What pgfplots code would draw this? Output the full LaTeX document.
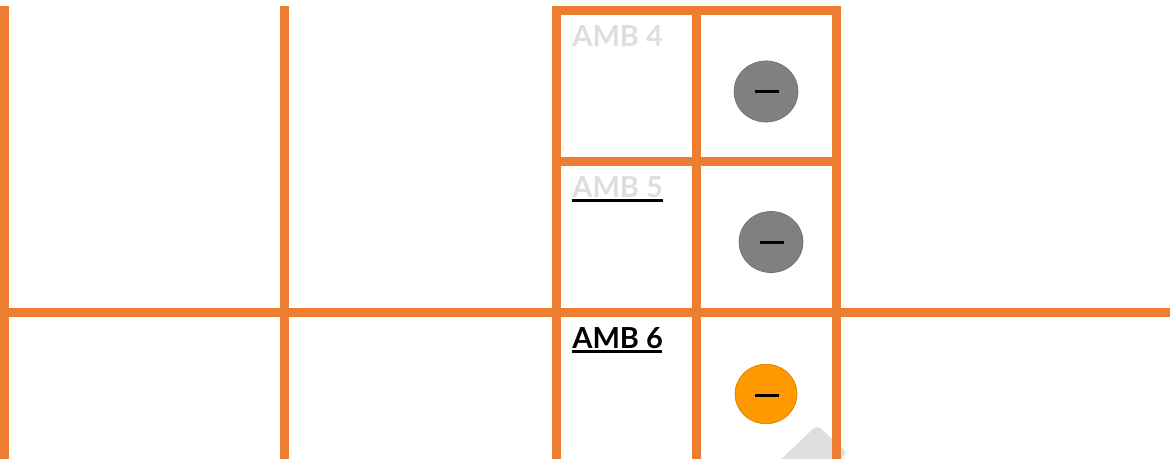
\documentclass[border=0pt]{standalone}
\usepackage{pgfplots}
\pgfplotsset{compat=1.18}
\usepackage{fontspec}
\setmainfont{Lato}
\definecolor{gridor}{HTML}{ED7D31}
\definecolor{wm}{HTML}{DEDEDE}
\definecolor{dotgray}{HTML}{808080}
\definecolor{dotor}{HTML}{FF9900}
\begin{document}
\begin{tikzpicture}
\useasboundingbox (0,0) rectangle (585pt,229.5pt);
\begin{axis}[
  at={(0,0)}, anchor=south west,
  scale only axis, width=585pt, height=229.5pt,
  xmin=0, xmax=1170, ymin=0, ymax=459, y dir=reverse,
  axis lines=none, clip=true, ticks=none,
  every axis plot/.append style={forget plot},
]
% watermark fragment
\addplot[fill=wm, draw=wm, line width=5pt, line join=round] coordinates {(772,475) (817,432) (840,452.5) (820,475)} --cycle;
% grid lines
\pgfplotsset{gl/.style={draw=gridor, line width=4.5pt, line cap=butt, no marks}}
\addplot[gl] coordinates {(4.5,6) (4.5,470)};
\addplot[gl] coordinates {(284.5,6) (284.5,470)};
\addplot[gl] coordinates {(556.5,6) (556.5,470)};
\addplot[gl] coordinates {(696.5,6) (696.5,470)};
\addplot[gl] coordinates {(836.5,6) (836.5,470)};
\addplot[gl] coordinates {(552,10.5) (841,10.5)};
\addplot[gl] coordinates {(552,161.5) (841,161.5)};
\addplot[gl] coordinates {(-5,312.5) (1175,312.5)};
% underlines
\addplot[draw=black, line width=1.5pt, no marks] coordinates {(572,200.5) (663,200.5)};
\addplot[draw=black, line width=1.5pt, no marks] coordinates {(572,351.5) (662,351.5)};
% status dots
\addplot[only marks, mark=*, mark size=16pt, mark options={yscale=0.955, fill=dotgray, draw=dotgray!85!black, line width=0.3pt}] coordinates {(766,91.5) (771,242)};
\addplot[only marks, mark=*, mark size=15.5pt, mark options={yscale=0.96, fill=dotor, draw=dotor!80!black, line width=0.3pt}] coordinates {(766,394)};
% minus signs, drawn as marks so that they stand on top of the dots
\addplot[only marks, mark=-, mark size=6pt, line width=1.5pt, mark options={solid, draw=black, line width=1.5pt}] coordinates {(767,92) (772,243) (767,395)};
% labels
\node[anchor=base west, inner sep=0pt, text=wm, font=\fontsize{14.5pt}{17pt}\selectfont\bfseries] at (axis cs:572,46.5) {AMB 4};
\node[anchor=base west, inner sep=0pt, text=wm, font=\fontsize{14.5pt}{17pt}\selectfont\bfseries] at (axis cs:572,197.5) {AMB 5};
\node[anchor=base west, inner sep=0pt, text=black, font=\fontsize{14.5pt}{17pt}\selectfont\bfseries] at (axis cs:572,348.5) {AMB 6};
\end{axis}
\end{tikzpicture}
\end{document}
